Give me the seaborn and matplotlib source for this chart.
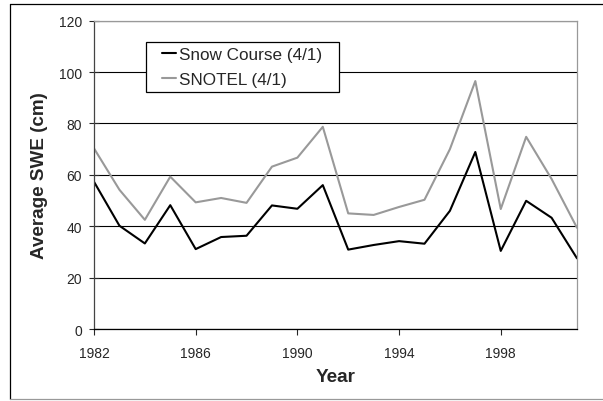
import numpy as np
import pandas as pd
import seaborn as sns
import matplotlib.pyplot as plt
from matplotlib.lines import Line2D

sns.set_style("white")
plt.rcParams["font.family"] = ["Liberation Sans", "DejaVu Sans"]

# values (cm)
years = list(range(1982, 2002))
snow_course = [57.3, 40.2, 33.3, 48.2, 31.1, 35.8, 36.3, 48.1, 46.8, 56.0,
               30.9, 32.7, 34.2, 33.2, 46.0, 68.9, 30.4, 49.9, 43.3, 27.5]
snotel = [70.3, 54.2, 42.5, 59.3, 49.3, 51.0, 49.1, 63.2, 66.7, 78.7,
          45.0, 44.4, 47.5, 50.3, 70.0, 96.5, 46.7, 74.8, 58.4, 39.4]
series = ["Snow Course (4/1)", "SNOTEL (4/1)"]
xticks = [1982, 1986, 1990, 1994, 1998]
yticks = [0, 20, 40, 60, 80, 100, 120]

df = pd.DataFrame({
    "Year": years * 2,
    "SWE": snow_course + snotel,
    "series": [series[0]] * len(years) + [series[1]] * len(years),
})

fig = plt.figure(figsize=(6.03, 4.02), dpi=100)
ax = fig.add_axes([0.1559, 0.1791, 0.8010, 0.7669])

sns.lineplot(data=df, x="Year", y="SWE", hue="series", hue_order=series,
             palette={series[0]: "black", series[1]: "#999999"},
             ax=ax, linewidth=1.5)

ax.set_xlim(1982, 2001)
ax.set_ylim(0, 120)
ax.set_xticks(xticks)
ax.set_yticks(yticks)
ax.yaxis.grid(True, color="black", linewidth=0.8)
ax.set_axisbelow(True)

ax.spines["left"].set_color("#444444")
ax.spines["bottom"].set_color("black")
ax.spines["top"].set_color("#999999")
ax.spines["right"].set_color("#999999")
for s in ax.spines.values():
    s.set_linewidth(0.9)

ax.tick_params(axis="x", direction="out", length=4, width=0.8, labelsize=10,
               pad=8, bottom=True)
ax.tick_params(axis="y", direction="inout", length=7, width=0.8, labelsize=10,
               pad=5, left=True)

ax.set_xlabel("Year", fontsize=13.6, fontweight="bold", labelpad=6)
ax.set_ylabel("Average SWE (cm)", fontsize=13.6, fontweight="bold", labelpad=8)

handles, labels = ax.get_legend_handles_labels()
leg = ax.legend(handles, labels, mode="expand",
                loc="upper left", bbox_to_anchor=(0.107, 0.832, 0.400, 0.1),
                borderaxespad=0, fontsize=12.3, frameon=True, fancybox=False,
                framealpha=1, edgecolor="black", handlelength=1.5,
                handletextpad=0.15, borderpad=0.3, labelspacing=0.6)
leg.get_frame().set_linewidth(0.9)
for line in leg.get_lines():
    line.set_linewidth(1.5)
    xd = np.asarray(line.get_xdata(), dtype=float)
    # short handle, indented from the box edge
    start = xd[0] + 0.45 * (xd[-1] - xd[0])
    line.set_xdata(np.linspace(start, xd[-1], len(xd)))

# outer chart border
fig.add_artist(Line2D([0.0166, 0.0166], [0.005, 0.988], color="black", linewidth=0.9))
fig.add_artist(Line2D([0.0166, 1.0], [0.988, 0.988], color="black", linewidth=0.9))
fig.add_artist(Line2D([0.0166, 1.0], [0.005, 0.005], color="#999999", linewidth=0.9))

fig.savefig("out.png", dpi=100)
